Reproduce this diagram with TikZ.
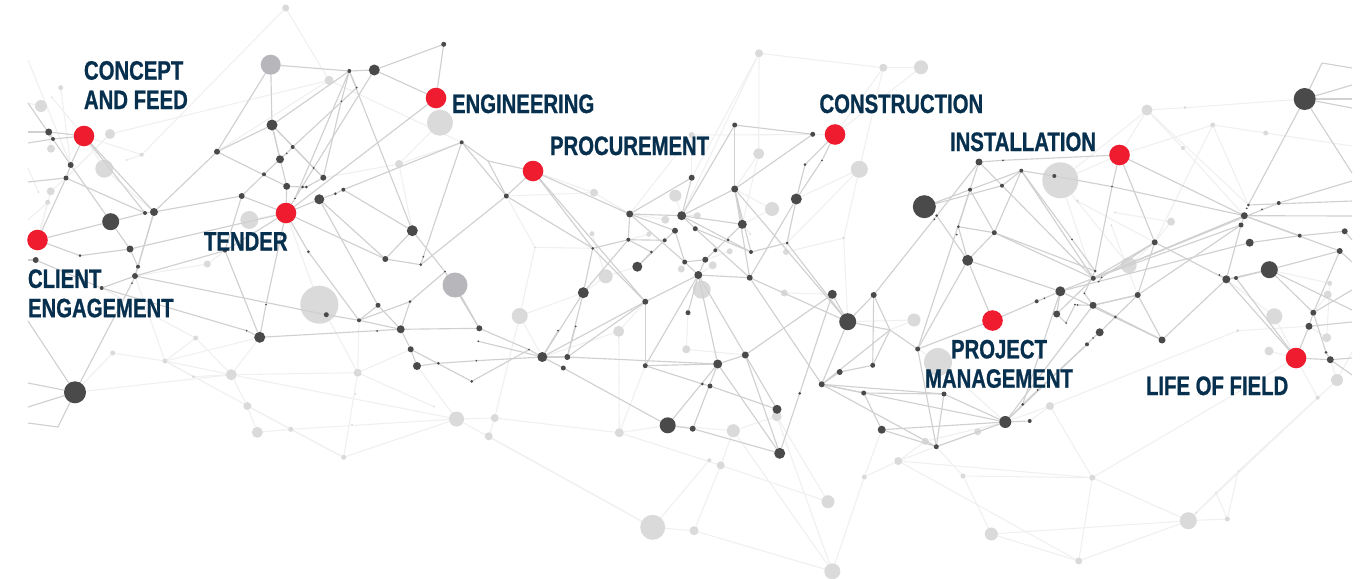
\documentclass[tikz,border=0pt]{standalone}
\usepackage{fontspec}
\newfontfamily\labfont[FakeStretch=0.762,FakeBold=0.8]{Liberation Sans Bold}
\definecolor{navy}{HTML}{07304F}
\definecolor{redn}{HTML}{EE1C2E}
\definecolor{darkn}{HTML}{4A4A4A}
\definecolor{grayn}{HTML}{B6B6BB}
\definecolor{lightn}{HTML}{DADADA}
\definecolor{edgec}{HTML}{D0D0D0}
\definecolor{edgef}{HTML}{F0F0F0}
\pgfdeclarelayer{fe}\pgfdeclarelayer{fn}\pgfdeclarelayer{de}
\pgfsetlayers{fe,fn,de,main}
\tikzset{
  dot/.style={circle,inner sep=0pt,outer sep=0pt,draw=none,minimum size=1.5pt*#1},
  darkdot/.style={dot=#1,fill=darkn},
  graydot/.style={dot=#1,fill=grayn},
  lightdot/.style={dot=#1,fill=lightn},
  reddot/.style={dot=#1,fill=redn},
  strong/.style={draw=edgec,line width=0.85pt},
  faint/.style={draw=edgef,line width=0.8pt},
  lab/.style={inner sep=0pt,outer sep=0pt,text=navy,align=left,
    font=\labfont\fontsize{20pt}{22pt}\selectfont}
}
\begin{document}
\begin{tikzpicture}[x=0.75pt,y=-0.75pt]
\useasboundingbox (0,0) rectangle (1366,578);
% free ends at the picture's edges
\foreach \n/\x/\y in {bL103/28/103,bL132/28/132,bL143/28/143,bL168/28/168,bL182/28/182,bL260/28/260,bL321/28/321,bL383/28/383,bL407/28/407,bL423/28/423,k58/58/427,
 k488/488/161,k890/890/330,k1322/1322/63,
 bR68/1352/68,bR85/1352/85,bR99/1352/99,bR108/1352/108,bR146/1352/146,bR173/1352/173,bR181/1352/181,bR201/1352/201,bR216/1352/216,bR240/1352/240,bR262/1352/262,bR290/1352/290,bR310/1352/310,bR322/1352/322,bR352/1352/352,bR358/1352/358,bR375/1352/375,
 bL220/28/220,bL60/28/60}
 {\coordinate (\n) at (\x,\y);}
% dark nodes
\foreach \n/\x/\y/\rr in {
d35/35.7/260/3,d49/48.7/132/3.5,d53/53/139/2,d66/66/178/2.5,d71/70.7/165/3,d80/80/255.7/1.5,d102/101.7/288/2,d111/110.7/221.7/8.5,d130/130/249/3.5,d132/132/283/1,d135/135/276/3,d138/138/266.7/2,d145/145/213/2,d154/154/212/4,
d217/217/151.7/3,d225/225/250.7/2,d242/241.7/196/3,d247/246.7/330.7/1,d260/259.7/337.3/5.5,d264/264/174.3/2,d266/266/304.7/1,d272/272/125/5.5,d280/280/159.3/4,d287a/286.7/153.3/1,d287/286.7/186.3/3.5,d293/292.7/147/2,d295/295/198.3/1,d303/302.7/187/1.5,d306/306.3/187/1.5,d308/308.3/251.7/1.5,d314/313.7/168/1,d319/319.3/199.3/5,d323/323.3/177.7/3,d326/326.3/314.7/2.5,d335/335.3/193.7/1.5,d341/341.3/101.3/1,d343/343.3/189.7/2,d349/349.3/71/2,d357/356.7/87.7/1,d359/359/320.3/2,d374/374.3/70/5.5,d377/377/331/1,d378/378/305.3/2.5,d385/385.3/259/3,d401/400.7/329.3/4,d410/410/301.7/1.5,d411/410.7/349.3/3,d412/412.3/230.7/5.5,d417/417/366/4,d421/420.7/264.7/1.5,d423/423.3/256.7/1,d438/438.3/363.3/1.5,d444/443.7/44.3/2.5,d445/445/271.7/1,d462/461.7/142.3/2,
d472/471.7/381.3/1.5,d476/476.3/360.7/1,d478/478.3/341.3/1,d479/479.3/328.3/3,d506/506.3/196/2.5,d529/529/349.7/1,d542/542.3/357/5,d558/558/330.7/1,d563/563.3/368/2.5,d567/567.3/357/3,d576/575.7/326.3/1,d583/583.3/292.7/5.5,d593/592.7/248.3/1.5,d628/628.3/239.7/2,d630/629.7/214/3.5,d637/637.3/266.7/5,d645/645.3/301.7/3,d645b/645.3/365.7/2.5,d651/651.3/252/1.5,d665/664.7/240.3/2,d668/667.7/425.3/8,d675/675/230.7/3,d682/681.7/215.7/4.5,d685/684.7/262/2.5,d688/688/312.7/2.5,d692/691.7/177.7/3,d693/692.7/428.7/3,d695/695.3/228.7/2.5,d698/698.3/275/4,d702/702.3/384/1.5,d705/705.3/259.7/3,d710/710/386/2.5,d715/715.3/250.3/2,d718/717.7/364/4.5,d728/728/240/1.5,d735a/734.7/125/2.5,d735/734.7/189/3.5,d742/742.3/224.3/4.5,d745/745.3/355/3.5,d750/749.7/277.7/3,d751/751/252/2,d777/777/409.3/4.5,d780/779.7/453.3/5.5,d787/787/243/1.5,d796/796.3/199/5.5,d800/799.7/393.3/1.5,d805/805/164.7/1.5,d813/812.7/134.3/2.5,d822a/822/160.3/1,d822/821.7/384.3/3,d832/832.3/294.3/4.5,d840/839.7/372/3,d848/847.7/321.7/8.5,d864/863.7/393/2.5,d873/872.7/365.3/2.5,d874/873.7/295/3,d882/881.7/429.7/4,
d918/917.7/349/2.5,d924/924.3/206.7/11.5,d934/934.3/219.3/1,d936/936.3/446.7/2.5,d937/936.7/215.7/1.5,d944/944/394/2.5,d957/956.7/234.7/1,d958/958.3/226.7/1.5,d968/967.7/260.3/5.5,d970/970/189.7/2,d979/979/162/3.5,d994/994.3/232.7/2.5,d1002/1002/185.7/2,d1003/1003/160.3/1,d1005/1005.3/422/6,d1021/1021.3/170.7/2,d1023/1022.7/404.3/1.5,d1030/1029.7/421/2,d1037/1036.7/301.3/2,d1038/1037.7/390/1,d1044/1044.3/298.3/1,d1054/1054.3/176/2,d1057/1056.7/314/3.5,d1060/1060.3/291.3/5,d1066/1066/323/1,d1072/1072/239.3/1,d1075/1075/304.7/1,d1078/1077.7/305/1,d1084/1084.3/293.3/1,d1087/1087/344.3/2,d1093a/1093/338/1,d1093b/1093.3/278.3/2.5,d1093/1093/305.3/3.5,d1095/1095/271/1.5,d1099/1098.7/281.7/1,d1100/1099.7/332.3/4,d1102/1101.7/277.3/1,d1112/1112/186.7/1,d1115/1115.3/317/1.5,d1138/1137.7/295/3,d1155/1154.7/242.3/3,d1162/1162/340/3.5,d1219/1219.3/275/1,d1226/1226.3/279.3/4,d1236/1236/278/2,d1241/1241/225/2.5,d1244/1244.3/215.7/3.5,d1247/1246.7/208.3/1,d1248/1248.3/205/1.5,d1250/1249.7/242.7/4,d1262/1262/209.3/1,d1269/1269.3/269.7/8.5,d1279/1278.7/203/2,d1300/1299.7/235.7/2,d1305/1304.7/99/11,d1309/1309/326.3/3.5,d1313/1313.3/312.7/3,d1326/1326/352.3/1.5,d1330/1330.3/359.7/3.5,d1340/1339.7/251/3,d1345/1344.7/231.3/3,d75/75/392.3/11}
 {\node[darkdot=\rr] (\n) at (\x,\y) {};}
\node[graydot=10] (g271) at (270.7,64.7) {};
\node[graydot=12.5] (g455) at (455,285) {};
% light nodes
\begin{pgfonlayer}{fn}
\foreach \n/\x/\y/\rr in {
l286/285.7/8/3.5,l41/41/106/6,l61/60.7/87.7/2.5,l52/51.7/97.3/1,l110/110/134/5,l51/51/148.7/4,l104/104.3/168.7/9,l142/141.7/154.7/2,l127/126.7/160/1,l51b/50.7/191.3/4,l48/47.7/202.3/2.5,l38/38.3/192/1,l329/329/80.3/4.5,l440/440/122.7/13,l399/399/164/4,l249/249.3/220/9,l207/207.3/264/3.5,l319/319.3/304.7/19,l113/112.7/353/2.5,l165/165/361/2.5,l196/195.7/338/2.5,l193/193.3/376.7/1.5,l231/231.3/374.7/5.5,l247/247.3/406/4,l257/257.3/432.3/5.5,l291/290.7/429.3/2.5,l344/343.7/457.3/2.5,l358/357.7/372.7/4,l355/355.3/394/1,l352/352/424.7/1,l434/434/406.7/1,l456/456.5/419/7.5,
l520/519.7/316/8,l495/494.7/418/4,l489/488.7/436.3/4,l619a/618.7/331.3/5.5,l619/619.3/432.7/4.5,l686/686.3/349.3/4,l733/733.3/430.7/6.5,l777/776.7/416.3/5,l709/709.3/460.3/2,l721/720.7/465.3/4,l828/828/501.7/6.5,l653/652.7/527.3/12.5,l694/694/530.7/4.5,l832/832.3/571.3/8,l864/864.3/477/2.5,l898/898.3/461/4,l912/914/320/6.5,l784/784.3/293/3.5,l702/701.7/289.7/9,
l759/759/53.3/4,l883/883.3/67.7/4,l759b/758.7/153.7/5.5,l692/691.7/135/3,l594/594/192.7/4,l675/675.3/195.7/6,l665/665.3/219.7/4,l697/697.3/215.7/3.5,l649/648.7/234.3/2.5,l592/592/233.7/2.5,l606/605.7/276.3/7,l681/681.3/269/3.5,l713/712.7/265.3/4,l730/729.7/251.3/3,l772/772/209/7,l786/786/252/3,l859/859.3/169.3/8.5,l844/843.7/238/1.5,l535/535/247.3/1,l750/750/234/1,
l921/921/67.3/7,l1147/1147/110/5.5,l1185/1185/107.7/1.5,l1213/1212.7/125/2.5,l1266/1265.7/133/2.5,l1183/1183/148/2,l1060/1060.3/180.3/18,l1077/1077.3/201/1.5,l1115/1115/212.7/1,l1111/1111.3/225.3/1,l1171/1171/221.7/4,l1129/1128.7/265.3/8,l1330/1329.7/283.3/2.5,
l938/938/362/14,l1050/1050/406/4,l978/977.7/431.7/3.5,l925/925.3/441.3/3.5,l963/963/476/2.5,l1092/1092.3/477.7/3,l991/991.3/534/6.5,l1079/1078.7/561/3.5,l1188/1188.3/520.7/8.5,l1227/1227.3/519/2.5,l1216/1216/492.7/1,l1196/1196.3/512.7/1,l1238/1238.3/471.3/1,l1274/1274.3/316.3/8,l1269/1269/351/4.5,l1327/1326.7/337.7/4.5,l1337/1337/380/6,l1318/1317.7/397.7/2,l1328/1327.7/294.7/4,l1238b/1237.7/330.7/1.5}
 {\node[lightdot=\rr] (\n) at (\x,\y) {};}
\end{pgfonlayer}
% red nodes
\foreach \n/\x/\y in {rCF/84/136,rCE/37.5/240,rEN/436/98,rTE/286/213,rPR/533/171,rCO/835/134.5,rIN/1119.5/155,rPM/992.5/320.5,rLF/1296/358}
 {\node[reddot=10.3] (\n) at (\x,\y) {};}
% strong connectors
\begin{pgfonlayer}{de}
\foreach \a/\b in {
bL132/d49,d49/rCF,bL143/d53,d53/d49,d53/rCF,rCF/d154,rCF/d145,rCF/d71,d71/d66,d66/rCE,bL103/d71,d71/d111,d66/d145,bL182/d66,d145/d154,d154/d242,d242/rTE,d111/d145,rCE/d111,d111/d130,d154/d138,d154/d135,rCE/d80,d80/d130,d130/rTE,d135/d225,d225/rTE,d154/d217,d217/d272,d217/d287,d287/rTE,d242/d264,d264/d280,d280/d287a,d287a/d293,d272/d287,d272/d323,d272/d280,d272/d349,g271/d272,g271/d217,g271/d349,d349/d374,d374/d444,d374/rEN,d444/rEN,d349/d295,d295/rTE,d374/d295,d293/d357,d357/d349,d349/d341,d341/d323,rEN/rTE,rTE/d319,d319/d335,d335/d343,d343/d462,d323/d314,d314/d272,d343/d412,d319/d385,rTE/d385,d412/d385,d385/d421,d412/d445,d349/d412,d462/d423,d423/d421,rTE/d308,d308/d359,rTE/d266,d266/d260,d242/d225,d225/d260,d260/d401,d102/d247,d247/d260,d135/d326,d326/d359,d359/d401,d401/d479,d359/d378,d378/d401,d401/d411,d411/d417,d417/d438,d438/d476,d359/d410,d410/d401,d410/d445,d411/d472,d378/d319,d287/d303,d303/d306,d306/d323,
bL321/d75,d75/d132,d132/d135,bL383/d75,bL407/d75,d75/k58,k58/bL423,bL260/d35,d35/d102,d102/d135,d135/d138,d138/d130,
d462/k488,k488/rPR,k488/d506,d462/d506,rPR/d506,d506/d421,d506/d593,d593/d645,rPR/d593,rPR/d645,rPR/d630,d630/d692,d630/d682,d630/d675,d630/d685,d630/d628,d628/d593,d628/d665,d628/d651,d651/d637,d637/d665,d665/d675,d593/d583,d628/d583,d583/d542,d583/d567,d576/d567,d645/d542,d645/d698,d645/d645b,d567/d645,d558/d542,d542/d567,d567/d718,d542/d563,d563/d668,d529/d542,d479/d529,d478/d542,d476/d542,d472/d529,g455/d479,d479/d445,
d692/d682,d682/d735a,d735a/d813,d813/d735,d735/d682,d735a/d735,d735/d742,d735/d751,d735/d750,d742/d715,d715/d705,d705/d698,d682/d695,d695/d750,d695/d751,d735/d848,d682/d728,d682/d742,d728/d751,d751/d787,d787/d796,d787/d848,rCO/d805,d805/d796,rCO/d822a,d822a/d796,d750/d796,d750/d848,d675/d685,d685/d698,d685/d705,d698/d750,d645b/d698,d718/d698,d745/d698,d745/d780,d745/d777,d745/d718,d645b/d702,d702/d710,d710/d777,d668/d718,d693/d718,d668/d693,d693/d780,d718/d780,d745/d832,d848/d874,d848/d832,d750/d822,d822/d840,d840/d873,d822/d848,d822/d864,d822/d936,d848/k890,k890/d822,k890/d874,k890/d918,d873/k890,d780/d800,d800/d832,d882/d864,d882/d1005,d882/d936,d864/d944,d822/d944,d822/d1005,d873/d874,d688/d698,d718/d645b,
d937/d874,d970/d918,d968/d918,rPM/d968,
d918/rPM,rPM/d1037,d1037/d1044,d1044/d1060,d918/d936,d944/d1005,d944/d936,d1005/d936,d1005/d1030,d1005/d1093,d1005/d1087,d1087/d1093a,d1093a/d1100,d1100/d1115,d1115/d1138,d1138/d1162,d1115/d1162,d1162/d1226,d1093/d1162,d1138/d1093,d1155/d1093b,d1155/rIN,d1155/d1226,d1155/d1138,rIN/d1112,d1112/d1095,rIN/d1244,rIN/d1003,d1003/d979,d979/d970,d970/d924,d979/d1093b,d1021/d1054,d1054/d1112,d1112/d1244,d1021/d1093b,d1021/d994,d1021/d970,d924/d1002,d1002/d1021,d937/d979,d970/d994,d970/d958,d958/d994,d994/d1095,d994/d1093b,d958/d968,d937/d968,d968/d994,d968/d1060,d1093b/d1244,d1279/d1093b,d1279/bR181,d1248/d1305,d1305/bR85,d1305/bR99,d1305/bR108,d1305/bR173,d1305/k1322,k1322/bR68,d1241/d1244,d1241/d1226,d1244/d1340,d1250/d1300,d1269/d1340,d1236/d1269,d1226/d1236,d1219/d1226,d1345/d1300,d1340/bR262,d1226/d1269,d1250/d1060,d1244/bR216,d1248/bR201,d1300/d1244,d1345/bR240,d1060/d1093b,d1060/d1057,d1057/d1093b,d1093b/d1102,d1102/d1099,d1084/d1095,d1057/d1066,d1066/d1075,d1075/d1078,d1078/d1093,d1093/d1138,d1093/d1084,d1102/d1155,d1138/d1241,d1093b/d1241,d1021/d1072,d1072/d1095,d1162/d1060,d1023/d1005,d1038/d1023,d1038/d1087,d1023/d1060,
d1226/rLF,d1236/rLF,rLF/d1309,d1309/d1313,d1313/bR290,rLF/d1330,d1330/bR358,d1326/d1330,d1313/d1269,d1326/d1313,d1330/bR375,d1309/bR322,d1340/d1313,d1269/bR310}
 {\draw[strong] (\a) -- (\b);}
\end{pgfonlayer}
% faint connectors
\begin{pgfonlayer}{fe}
\fill[white] (0,0) rectangle (1366,578);
\foreach \a/\b in {
l286/l329,l286/l142,l142/rCF,l142/l127,l329/l110,l329/d217,bL60/d71,l61/d71,l52/rCF,l41/bL103,l110/d66,l104/rCF,l104/d154,l51b/rCE,l51b/d66,l48/rCE,l38/bL168,l51/d49,l48/bL220,l440/rEN,l399/d323,l399/d462,l249/rTE,l207/d135,l207/d225,l319/d326,l319/rTE,l329/d462,l399/l440,d412/l399,
l113/d75,l113/l165,l165/l231,l165/l196,l165/d260,l165/d135,l165/l291,l196/l231,l196/d102,l193/l165,l193/l231,d75/l231,l231/d260,l231/l247,l247/l257,l231/l358,l257/l291,l291/l456,l247/l344,l291/l344,l344/l456,l358/l344,l358/l434,l231/l456,l456/l495,l495/l619,l456/l653,l489/l653,l495/l489,l653/l694,l694/l832,l653/l709,l694/l721,l619/l721,l721/l828,l721/l733,l733/l777,l733/d668,l619/d668,l619a/l619,l619a/d542,l832/l864,l864/l898,l832/l733,l832/l777,l828/l777,l520/l495,l520/d542,l520/d583,l619/d645b,l619a/d645,l864/d882,l898/d936,l358/d359,l358/d326,l456/d417,l358/d411,
l759/l883,l759/l759b,l759/d682,l883/rCO,l883/l859,rCO/l692,l692/d630,l759b/d735,l759b/d742,l859/d796,l859/d787,l692/d692,l594/rPR,l594/d506,l594/d630,l535/d506,l535/d593,l535/l520,l592/l606,l606/d637,l606/d583,l665/d630,l649/d628,l675/d682,l697/d682,l681/d685,l713/d698,l730/d705,l772/d735,l772/d742,l786/d787,l844/l859,l844/d848,l844/l786,l750/d742,l912/d848,l912/k890,l784/d832,l702/d698,l686/d745,l686/d688,d692/l759,
l921/rCO,l921/l883,l1147/rIN,l1147/l1185,l1185/d1305,l1147/d1248,l1147/l1060,l1213/rIN,l1213/l1266,l1266/bR146,l1213/d1155,l1213/d1248,l1183/d1244,l1183/l1147,l1060/rIN,l1077/d1155,l1115/l1171,l1111/d1138,l1171/d1155,l1129/d1093b,l1129/d1155,l1330/d1269,l1330/l1327,l1060/d1093b,l1129/l1060,
l938/d1005,l938/d918,l1050/d1005,l1050/d1030,l978/d1005,l978/d936,l925/d936,l925/l898,l963/l1092,l963/l991,l991/l1188,l991/l1079,l1079/l1188,l1079/l1092,l1092/l1188,l1092/l1050,l1092/rLF,l1188/l1227,l1188/l1216,l1216/l1238,l1188/l1196,l1196/l1318,l1227/l1216,l1227/l1238,l1050/l1238b,l1238b/d1309,l898/l1092,l898/l1079,l1274/rLF,l1269/rLF,l1327/d1309,l1337/d1330,l1337/bR352,l1318/rLF,l1328/d1313,l1238/l1318,l1238/l1337,l925/d1005,l963/d936,l1274/d1226}
 {\draw[faint] (\a) -- (\b);}
\end{pgfonlayer}
% labels
\node[lab,anchor=south west] (tCF) at (84,109) {CONCEPT\\AND FEED};
\node[lab,anchor=base west] (tEN) at (452,113) {ENGINEERING};
\node[lab,anchor=base west] (tPR) at (550,155) {PROCUREMENT};
\node[lab,anchor=base west] (tCO) at (819.5,113) {CONSTRUCTION};
\node[lab,anchor=base west] (tIN) at (950,151) {INSTALLATION};
\node[lab,anchor=base west] (tTE) at (204,250.5) {TENDER};
\node[lab,anchor=south west] (tCE) at (28,317.5) {CLIENT\\ENGAGEMENT};
\node[lab,anchor=south,align=center] (tPM) at (999,388) {PROJECT\\MANAGEMENT};
\node[lab,anchor=base west] (tLF) at (1146,395) {LIFE OF FIELD};
\end{tikzpicture}
\end{document}
